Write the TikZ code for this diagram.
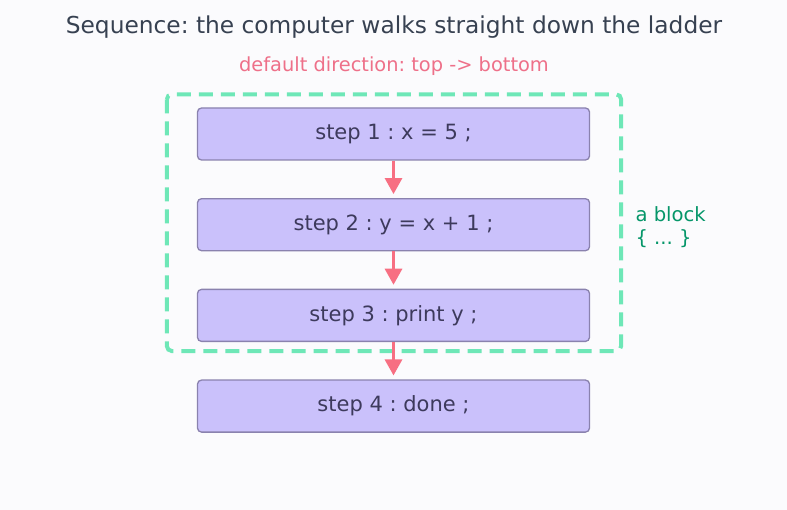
\documentclass[tikz,border=0pt]{standalone}
\usepackage{fontspec}
\setmainfont{DejaVu Sans}
\usepackage{tikz}
\usetikzlibrary{arrows.meta,positioning,calc}
\definecolor{bgpaper}{HTML}{FBFBFD}
\definecolor{titlegray}{HTML}{374151}
\definecolor{subpink}{HTML}{EE7089}
\definecolor{stepfill}{HTML}{CAC1FB}
\definecolor{stepline}{HTML}{8A82AE}
\definecolor{steptext}{HTML}{3D3A5C}
\definecolor{flowred}{HTML}{F76F82}
\definecolor{blockmint}{HTML}{6EE7B7}
\definecolor{blockgreen}{HTML}{059669}
\frenchspacing

\begin{document}
\begin{tikzpicture}[
  x=1pt, y=-1pt,
  node distance=37.4pt,
  stepbox/.style={draw=stepline, fill=stepfill, line width=1.3pt, rounded corners=4pt, minimum width=392pt, minimum height=52pt, text=steptext, font=\fontsize{21}{25}\selectfont},
  flow/.style={-{Triangle[length=16pt,width=17pt]}, draw=flowred, line width=3pt, shorten >=4pt},
  blockline/.style={draw=blockmint, line width=4pt, rounded corners=5pt, dash pattern=on 14pt off 8pt},
]
  % page
  \fill[bgpaper] (0,0) rectangle (787,510);
  \useasboundingbox (0,0) rectangle (787,510);

  % Headers
  \node[text=titlegray, font=\fontsize{23.3}{27}\selectfont] (title) at (394,27) {Sequence: the computer walks straight down the ladder};
  \node[text=subpink, font=\fontsize{19.4}{23}\selectfont] (sub) at (394,66) {default direction: top -> bottom};

  % Steps
  \node[stepbox] (s1) at (393.5,134) {step 1 : x = 5 ;};
  \node[stepbox, below=of s1] (s2) {step 2 : y = x + 1 ;};
  \node[stepbox, below=of s2] (s3) {step 3 : print y ;};
  \node[stepbox, below=of s3] (s4) {step 4 : done ;};

  % Block
  \draw[blockline] ($(s1.north west)+(-30,-13)$) rectangle ($(s3.south east)+(31,9)$);
  \node[anchor=west, align=left, text=blockgreen, font=\fontsize{19.6}{23}\selectfont] (lbl) at (632,227) {a block\\\{ ... \}};

  \draw[flow] (s1) -- (s2);
  \draw[flow] (s2) -- (s3);
  \draw[flow] (s3) -- (s4);
\end{tikzpicture}
\end{document}
